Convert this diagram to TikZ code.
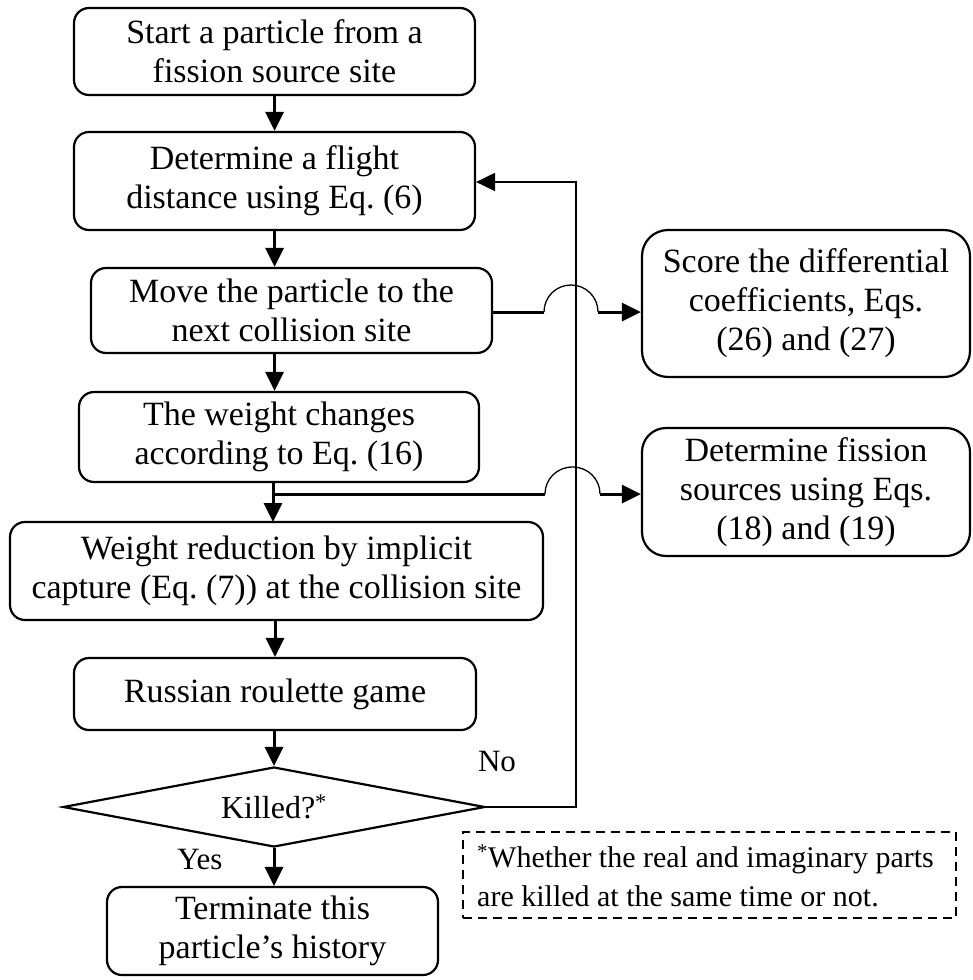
\documentclass[tikz,border=0pt]{standalone}
\usepackage{fontspec}
\setmainfont{Liberation Serif}
\usetikzlibrary{arrows.meta,shapes.geometric}
\begin{document}
\frenchspacing
\begin{tikzpicture}[x=1pt,y=-1pt,
  box/.style={draw, line width=2.2pt, rounded corners=15pt, align=center, inner sep=0pt,
    font=\fontsize{34}{39}\selectfont},
  arr/.style={line width=3pt, -{Triangle[length=19pt,width=18pt]}},
  loopline/.style={line width=2pt},
  hop/.style={line width=1.3pt},
  lbl/.style={font=\fontsize{32}{38}\selectfont, inner sep=0pt}
]
\useasboundingbox (0,0) rectangle (972,980);

\node[box, minimum width=401pt, minimum height=87pt] (b1) at (274.5,51.5)
  {Start a particle from a\\fission source site};
\node[box, minimum width=401pt, minimum height=98pt] (b2) at (274.5,181)
  {Determine a flight\\distance using Eq. (6)};
\node[box, minimum width=401pt, minimum height=85pt] (b3) at (291.5,310.5)
  {Move the particle to the\\next collision site};
\node[box, minimum width=400pt, minimum height=90pt] (b4) at (279,437)
  {The weight changes\\according to Eq. (16)};
\node[box, minimum width=533pt, minimum height=98pt] (b5) at (276.5,571)
  {Weight reduction by implicit\\capture (Eq. (7)) at the collision site};
\node[box, minimum width=402pt, minimum height=72pt] (b6) at (275,694)
  {Russian roulette game};
\node[diamond, draw, line width=2.2pt, minimum width=422pt, minimum height=80pt, inner sep=0pt,
  aspect=5.3] (d) at (274,807) {};
\node[lbl] (dtxt) at (274,807) {Killed?\textsuperscript{*}};
\node[box, minimum width=331pt, minimum height=88pt] (b7) at (272.5,931)
  {Terminate this\\particle’s history};

\node[box, rounded corners=26pt, minimum width=328pt, minimum height=147pt] (s1) at (806,303.5)
  {Score the differential\\coefficients, Eqs.\\(26) and (27)};
\node[box, rounded corners=24pt, minimum width=328pt, minimum height=128pt] (s2) at (806,492)
  {Determine fission\\sources using Eqs.\\(18) and (19)};

\node[draw, line width=1.5pt, dash pattern=on 9pt off 6pt, minimum width=493pt,
  minimum height=86pt, inner sep=0pt] (fn) at (709.5,875) {};
\node[anchor=west, align=left, inner sep=0pt, font=\fontsize{30}{39}\selectfont] (fntxt) at (477,876)
  {\textsuperscript{*}Whether the real and imaginary parts\\are killed at the same time or not.};

\node[lbl, font=\fontsize{31}{37}\selectfont] (no) at (497,761) {No};
\node[lbl, font=\fontsize{31}{37}\selectfont] (yes) at (200,859) {Yes};

% main flow
\draw[arr] (b1.south) -- (b2.north);
\draw[arr] (b2.south) -- (b2.south |- b3.north);
\draw[arr] (b2.south |- b3.south) -- (b2.south |- b4.north);
\coordinate (br) at (273,494);
\draw[arr] (273,482) -- (273,522);
\draw[arr] (b5.south -| 275,0) -- (b6.north -| 275,0);
\draw[arr] (b6.south -| d.north) -- (d.north);
\draw[arr] (d.south) -- (d.south |- b7.north);

% loop back
\coordinate (lp1) at (576,807);
\coordinate (lp2) at (576,182);
\draw[loopline, -{Triangle[length=19pt,width=18pt]}] (d.east) -- (lp1) -- (lp2) -- (b2.east |- lp2);

% score branch with hop
\coordinate (h1a) at (544,312);
\coordinate (h1b) at (598,312);
\draw[line width=3pt] (b3.east |- h1a) -- (h1a);
\draw[hop] (h1a) .. controls (544,297) and (556,285) .. (571,285) .. controls (586,285) and (598,297) .. (h1b);
\draw[arr] (h1b) -- (s1.west |- h1b);

% fission branch with hop
\coordinate (h2a) at (545,494);
\coordinate (h2b) at (600,494);
\draw[line width=3pt] (br) -- (h2a);
\draw[hop] (h2a) .. controls (545,479) and (557,467) .. (572.5,467) .. controls (588,467) and (600,479) .. (h2b);
\draw[arr] (h2b) -- (s2.west |- h2b);
\end{tikzpicture}
\end{document}
